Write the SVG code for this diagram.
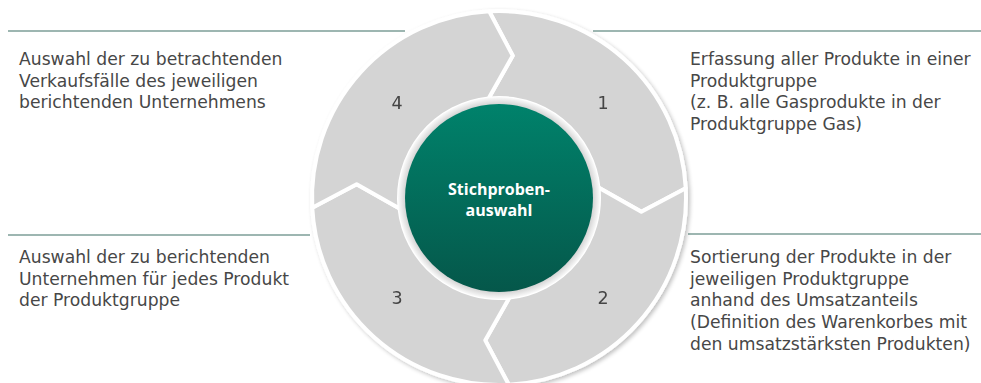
<svg xmlns="http://www.w3.org/2000/svg" width="981" height="383" viewBox="0 0 981 383">
  <defs>
    <linearGradient id="core" x1="0" y1="0" x2="0" y2="1">
      <stop offset="0" stop-color="#00826b"/>
      <stop offset="1" stop-color="#05574a"/>
    </linearGradient>
    <radialGradient id="halo" cx="0.5" cy="0.5" r="0.5">
      <stop offset="0.9" stop-color="#c4c4c4"/>
      <stop offset="1" stop-color="#fbfbfb"/>
    </radialGradient>
    <filter id="soft" x="-10%" y="-10%" width="125%" height="125%">
      <feGaussianBlur in="SourceAlpha" stdDeviation="2"/>
      <feOffset dx="1.5" dy="1.5" result="s"/>
      <feComponentTransfer><feFuncA type="linear" slope="0.25"/></feComponentTransfer>
      <feMerge><feMergeNode/><feMergeNode in="SourceGraphic"/></feMerge>
    </filter>
  </defs>
  <style>
    .seg { fill: #d4d4d4; stroke: #ffffff; stroke-width: 4; stroke-linejoin: round; }
    .num { font-family: "DejaVu Sans", "Open Sans", sans-serif; font-size: 17.5px; fill: #444444; text-anchor: middle; }
    .txt { font-family: "DejaVu Sans", "Open Sans", sans-serif; font-size: 17.2px; fill: #474747; }
    .rule { stroke: #3d6f64; stroke-width: 1.2; fill: none; }
    .title { font-family: "Open Sans", "DejaVu Sans", sans-serif; font-size: 16px; font-weight: bold; fill: #ffffff; text-anchor: middle; }
  </style>

  <!-- rules above each description -->
  <g id="connectors">
    <line class="rule" x1="8" y1="31" x2="405" y2="31"/>
    <line class="rule" x1="593" y1="31" x2="981" y2="31"/>
    <line class="rule" x1="8" y1="235" x2="310" y2="235"/>
    <line class="rule" x1="688" y1="234" x2="981" y2="234"/>
  </g>

  <!-- ring of four arrow segments, clockwise -->
  <g filter="url(#soft)">
    <g id="step1">
      <path class="seg" d="M489.21,11.26 A187,187 0 0 1 685.74,188.21 L641.34,211.71 L598.45,187.55 A100,100 0 0 0 488.55,98.55 L512.71,55.66 Z"/>
      <text class="num" x="603" y="109">1</text>
    </g>
    <g id="step2">
      <path class="seg" d="M685.74,188.21 A187,187 0 0 1 508.79,384.74 L485.29,340.34 L509.45,297.45 A100,100 0 0 0 598.45,187.55 L641.34,211.71 Z"/>
      <text class="num" x="603" y="304">2</text>
    </g>
    <g id="step3">
      <path class="seg" d="M508.79,384.74 A187,187 0 0 1 312.26,207.79 L356.66,184.29 L399.55,208.45 A100,100 0 0 0 509.45,297.45 L485.29,340.34 Z"/>
      <text class="num" x="397" y="304">3</text>
    </g>
    <g id="step4">
      <path class="seg" d="M312.26,207.79 A187,187 0 0 1 489.21,11.26 L512.71,55.66 L488.55,98.55 A100,100 0 0 0 399.55,208.45 L356.66,184.29 Z"/>
      <text class="num" x="397" y="109">4</text>
    </g>
  </g>

  <!-- centre -->
  <g id="center">
    <circle cx="499" cy="198" r="101" fill="url(#halo)"/>
    <circle cx="499" cy="198" r="94" fill="url(#core)"/>
    <text class="title" x="499" y="195">Stichproben-</text>
    <text class="title" x="499" y="216">auswahl</text>
  </g>

  <!-- descriptions -->
  <g id="desc4">
    <text class="txt" x="19" y="65">Auswahl der zu betrachtenden</text>
    <text class="txt" x="19" y="86.5">Verkaufsfälle des jeweiligen</text>
    <text class="txt" x="19" y="108">berichtenden Unternehmens</text>
  </g>
  <g id="desc1">
    <text class="txt" x="690" y="65">Erfassung aller Produkte in einer</text>
    <text class="txt" x="690" y="86.5">Produktgruppe</text>
    <text class="txt" x="690" y="108">(z. B. alle Gasprodukte in der</text>
    <text class="txt" x="690" y="129.5">Produktgruppe Gas)</text>
  </g>
  <g id="desc3">
    <text class="txt" x="19" y="263">Auswahl der zu berichtenden</text>
    <text class="txt" x="19" y="284.5">Unternehmen für jedes Produkt</text>
    <text class="txt" x="19" y="306">der Produktgruppe</text>
  </g>
  <g id="desc2">
    <text class="txt" x="690" y="263">Sortierung der Produkte in der</text>
    <text class="txt" x="690" y="284.7">jeweiligen Produktgruppe</text>
    <text class="txt" x="690" y="306.4">anhand des Umsatzanteils</text>
    <text class="txt" x="690" y="328.1">(Definition des Warenkorbes mit</text>
    <text class="txt" x="690" y="349.8">den umsatzstärksten Produkten)</text>
  </g>
</svg>
